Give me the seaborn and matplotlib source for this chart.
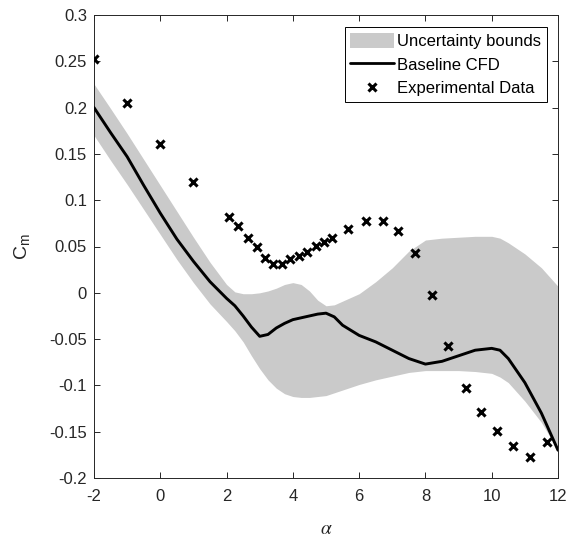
import numpy as np
import pandas as pd
import matplotlib
matplotlib.use("Agg")
import matplotlib.pyplot as plt
from matplotlib.patches import Patch
from matplotlib.lines import Line2D
import seaborn as sns

# Angle-of-attack grid for the CFD prediction and its uncertainty envelope
cfd_alpha = [-2, -1.5, -1, -0.5, 0, 0.5, 1, 1.5, 2, 2.25, 2.5, 2.75, 3, 3.25,
             3.5, 3.75, 4, 4.25, 4.5, 4.75, 5, 5.25, 5.5, 6, 6.5, 7, 7.5, 8,
             8.5, 9, 9.5, 10, 10.25, 10.5, 11, 11.5, 12]
cfd_cm = [0.200, 0.173, 0.147, 0.116, 0.086, 0.058, 0.034, 0.012, -0.006,
          -0.014, -0.025, -0.037, -0.047, -0.045, -0.038, -0.033, -0.029,
          -0.027, -0.025, -0.023, -0.022, -0.026, -0.035, -0.046, -0.053,
          -0.062, -0.071, -0.077, -0.074, -0.068, -0.062, -0.060, -0.062,
          -0.071, -0.097, -0.130, -0.170]
cm_upper = [0.2255, 0.199, 0.172, 0.144, 0.116, 0.088, 0.060, 0.033, 0.009,
            0.001, -0.001, -0.001, 0.000, 0.002, 0.005, 0.009, 0.011, 0.009,
            0.002, -0.008, -0.014, -0.013, -0.009, -0.001, 0.012, 0.027,
            0.045, 0.057, 0.059, 0.060, 0.061, 0.061, 0.059, 0.054, 0.042,
            0.027, 0.007]
cm_lower = [0.170, 0.143, 0.117, 0.090, 0.063, 0.036, 0.011, -0.012, -0.031,
            -0.041, -0.053, -0.068, -0.082, -0.094, -0.103, -0.109, -0.112,
            -0.113, -0.113, -0.112, -0.111, -0.108, -0.105, -0.099, -0.094,
            -0.090, -0.086, -0.084, -0.084, -0.084, -0.085, -0.087, -0.091,
            -0.097, -0.117, -0.140, -0.170]

# Wind-tunnel measurements
exp_alpha = [-2, -1, 0, 1, 2.08, 2.35, 2.65, 2.92, 3.16, 3.41, 3.66, 3.92,
             4.18, 4.44, 4.69, 4.94, 5.19, 5.67, 6.2, 6.72, 7.18, 7.69, 8.19,
             8.67, 9.22, 9.68, 10.17, 10.65, 11.16, 11.66]
exp_cm = [0.2525, 0.205, 0.1607, 0.120, 0.0822, 0.0722, 0.0597, 0.0491,
          0.0381, 0.0309, 0.0311, 0.0362, 0.0398, 0.0444, 0.0509, 0.0553,
          0.0595, 0.0686, 0.0772, 0.0775, 0.0667, 0.0433, -0.0024, -0.0575,
          -0.103, -0.129, -0.149, -0.165, -0.177, -0.161]

x_ticks = [-2, 0, 2, 4, 6, 8, 10, 12]
y_ticks = [-0.2, -0.15, -0.1, -0.05, 0, 0.05, 0.1, 0.15, 0.2, 0.25, 0.3]
legend_labels = ["Uncertainty bounds", "Baseline CFD", "Experimental Data"]

cfd = pd.DataFrame({"alpha": cfd_alpha, "cm": cfd_cm,
                    "upper": cm_upper, "lower": cm_lower})
exp = pd.DataFrame({"alpha": exp_alpha, "cm": exp_cm})

sns.set_theme(style="ticks")
plt.rcParams["font.family"] = ["Liberation Sans", "DejaVu Sans"]

ink = "#262626"
band_color = "#cacaca"

fig = plt.figure(figsize=(5.71, 5.39), dpi=100)
ax = fig.add_axes([94 / 571, 1 - 478 / 539, 464 / 571, 463 / 539])

ax.fill_between(cfd["alpha"], cfd["lower"], cfd["upper"],
                color=band_color, linewidth=0, zorder=1)
sns.lineplot(data=cfd, x="alpha", y="cm", ax=ax, color="black",
             linewidth=2.1, sort=False, zorder=3, legend=False)
sns.scatterplot(data=exp, x="alpha", y="cm", ax=ax, marker="x",
                color="black", s=34, linewidth=2.2, zorder=4, legend=False)

ax.set_xlim(-2, 12)
ax.set_ylim(-0.2, 0.3)
ax.set_xticks(x_ticks)
ax.set_xticklabels([f"{t:g}" for t in x_ticks])
ax.set_yticks(y_ticks)
ax.set_yticklabels([f"{t:g}" for t in y_ticks])

for side in ["top", "right", "bottom", "left"]:
    ax.spines[side].set_visible(True)
    ax.spines[side].set_color(ink)
    ax.spines[side].set_linewidth(0.7)
ax.tick_params(direction="in", length=4.5, width=0.7, color=ink,
               labelcolor=ink, labelsize=12, top=True, right=True)
ax.tick_params(axis="x", pad=8)
ax.tick_params(axis="y", pad=5)

ax.set_xlabel(r"$\alpha$", fontsize=14, color=ink, labelpad=12,
              math_fontfamily="stix")
ax.set_ylabel(r"C$_\mathregular{m}$", fontsize=14, color=ink, labelpad=12)

handles = [
    Patch(facecolor=band_color, edgecolor="none"),
    Line2D([0], [0], color="black", linewidth=2),
    Line2D([0], [0], color="black", linestyle="none", marker="x",
           markersize=6, markeredgewidth=2.2),
]
leg = ax.legend(handles, legend_labels, loc="upper right",
                bbox_to_anchor=(1 - 11 / 464, 1 - 12 / 463),
                borderaxespad=0, fontsize=12, frameon=True, fancybox=False,
                edgecolor="black", framealpha=1, handlelength=2.6,
                handleheight=1.0, handletextpad=0.2, labelspacing=0.45,
                borderpad=0.35)
leg.get_frame().set_linewidth(0.7)
for t in leg.get_texts():
    t.set_color("black")

fig.savefig("out.png", dpi=100)
